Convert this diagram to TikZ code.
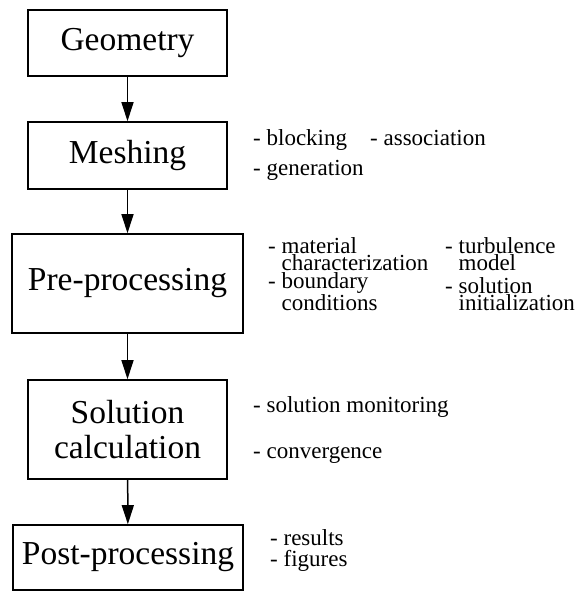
\documentclass[tikz,border=0pt]{standalone}
\usepackage{fontspec}
\setmainfont{Liberation Serif}
\usetikzlibrary{arrows.meta}
\tikzset{
  stage/.style={draw, line width=1.6pt, inner sep=0pt, align=center,
    font=\fontsize{33.5}{35}\selectfont},
  note/.style={anchor=base west, inner sep=0pt, align=left,
    font=\fontsize{23}{17}\selectfont},
  flow/.style={line width=1.5pt, -{Triangle[length=19pt,width=12pt]}}
}
\begin{document}
\begin{tikzpicture}[x=1pt,y=-1pt]
\useasboundingbox (0,0) rectangle (575,592);
\node[stage, minimum width=199pt, minimum height=66pt] (geo) at (127.5,43) {Geometry};
\node[stage, minimum width=199pt, minimum height=67pt] (mesh) at (127.5,155.5) {Meshing};
\node[stage, minimum width=231pt, minimum height=99pt] (pre) at (127.5,283.5) {Pre-processing};
\node[stage, minimum width=199pt, minimum height=99pt] (sol) at (127.5,429.5) {Solution\\calculation};
\node[stage, minimum width=230pt, minimum height=65pt] (post) at (128,557.5) {Post-processing};
\draw[flow] (geo) -- (mesh);
\draw[flow] (mesh) -- (pre);
\draw[flow] (pre) -- (sol);
\draw[flow] (sol) -- (post);
% notes
\node[note] (n1) at (253,145) {- blocking};
\node[note] (n2) at (370,145) {- association};
\node[note] (n3) at (253,175) {- generation};
\node[note] (n4) at (268,270) {- material\\\phantom{- }characterization};
\node[note] (n5) at (445,270) {- turbulence\\\phantom{- }model};
\node[note] (n6) at (268,310) {- boundary\\\phantom{- }conditions};
\node[note] (n7) at (445,310) {- solution\\\phantom{- }initialization};
\node[note] (n8) at (253,412) {- solution monitoring};
\node[note] (n9) at (253,458) {- convergence};
\node[note] (n10) at (270,545) {- results};
\node[note] (n11) at (270,566) {- figures};
\end{tikzpicture}
\end{document}
